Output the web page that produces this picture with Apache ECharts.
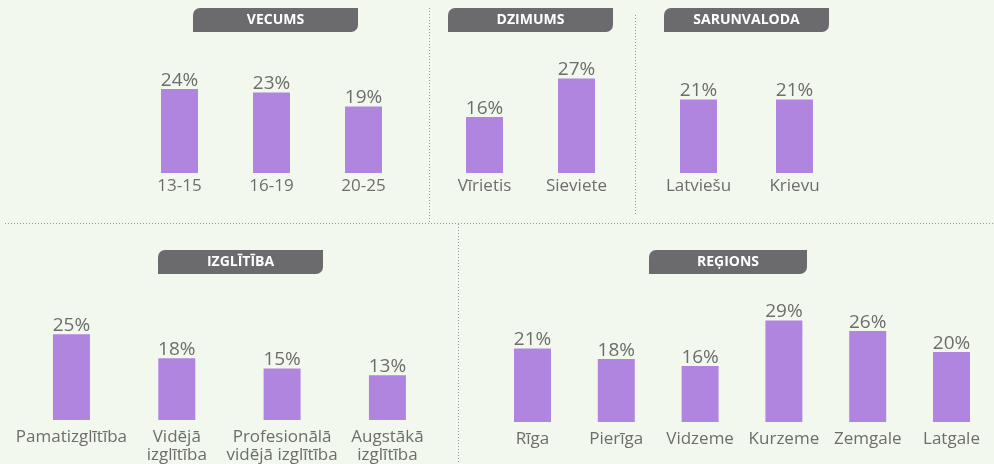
<!DOCTYPE html>
<html>
<head>
<meta charset="utf-8">
<script src="https://cdn.jsdelivr.net/npm/echarts@6/dist/echarts.min.js"></script>
<style>
    html, body { margin: 0; padding: 0; background: #f2f8ee; }
    #chart { width: 994px; height: 464px; }
</style>
</head>
<body>
<div id="chart"></div>
<script>
// dati
const panelTitles = ['VECUMS', 'DZIMUMS', 'SARUNVALODA', 'IZGLĪTĪBA', 'REĢIONS']
const ageCats = ['13-15', '16-19', '20-25']
const ageVals = [24, 23, 19]
const genderCats = ['Vīrietis', 'Sieviete']
const genderVals = [16, 27]
const langCats = ['Latviešu', 'Krievu']
const langVals = [21, 21]
const eduCats = ['Pamatizglītība', 'Vidējā\nizglītība', 'Profesionālā\nvidējā izglītība', 'Augstākā\nizglītība']
const eduVals = [25, 18, 15, 13]
const regionCats = ['Rīga', 'Pierīga', 'Vidzeme', 'Kurzeme', 'Zemgale', 'Latgale']
const regionVals = [21, 18, 16, 29, 26, 20]

const textColor = '#6d6d6d'
const barColor = '#b085e0'
const tabColor = '#6b6b6e'
const font = 'Open Sans'

const cats = [ageCats, genderCats, langCats, eduCats, regionCats]
const vals = [ageVals, genderVals, langVals, eduVals, regionVals]

// grid layout (px)
const grids = [
    { left: 133.5, width: 276, top: 68, height: 105 },
    { left: 438.5, width: 184, top: 68, height: 105 },
    { left: 650.5, width: 192, top: 68, height: 105 },
    { left: 18.8, width: 421.3, top: 317, height: 105 },
    { left: 490.6, width: 502.8, top: 317, height: 105 }
]
// title tabs
const tabs = [
    { x: 193, y: 8, w: 165 },
    { x: 448, y: 8, w: 165 },
    { x: 664, y: 8, w: 165 },
    { x: 158, y: 250, w: 165 },
    { x: 649, y: 250, w: 158 }
]

let chart = echarts.init(document.getElementById('chart'))

let xAxis = [], yAxis = [], series = []
cats.forEach((c, i) => {
    xAxis.push({
        type: 'category',
        gridIndex: i,
        data: c,
        axisLine: { show: false },
        axisTick: { show: false },
        axisLabel: {
            interval: 0,
            margin: i < 3 ? 4 : 8,
            color: textColor,
            fontFamily: font,
            fontSize: 17,
            lineHeight: 18
        }
    })
    yAxis.push({
        type: 'value',
        gridIndex: i,
        min: 0,
        max: 30,
        show: false
    })
    series.push({
        type: 'bar',
        xAxisIndex: i,
        yAxisIndex: i,
        data: vals[i],
        barWidth: 37,
        itemStyle: { color: barColor },
        label: {
            show: true,
            position: 'top',
            distance: -1,
            formatter: '{c}%',
            color: textColor,
            fontFamily: font,
            fontSize: 19
        }
    })
})

let graphic = []
tabs.forEach((t, i) => {
    graphic.push({
        type: 'group',
        left: t.x,
        top: t.y,
        children: [{
            type: 'rect',
            shape: { x: 0, y: 0, width: t.w, height: 24, r: [7, 0, 7, 0] },
            style: { fill: tabColor }
        }, {
            type: 'text',
            x: t.w / 2,
            y: 12.5,
            style: {
                text: panelTitles[i],
                fill: '#fff',
                font: 'bold 14px "Open Sans"',
                align: 'center',
                verticalAlign: 'middle'
            }
        }]
    })
})

// dotted separators
const dotted = { stroke: '#9a9a9a', lineWidth: 1, lineDash: [1, 2] }
const lines = [
    [5, 223.5, 994, 223.5],
    [429.5, 8, 429.5, 223],
    [635.5, 15, 635.5, 215],
    [458.5, 224, 458.5, 464]
]
lines.forEach(l => {
    graphic.push({
        type: 'line',
        shape: { x1: l[0], y1: l[1], x2: l[2], y2: l[3] },
        style: dotted
    })
})

let option = {
    backgroundColor: '#f2f8ee',
    animation: false,
    grid: grids,
    xAxis: xAxis,
    yAxis: yAxis,
    series: series,
    graphic: graphic
}
chart.setOption(option)
</script>
</body>
</html>
